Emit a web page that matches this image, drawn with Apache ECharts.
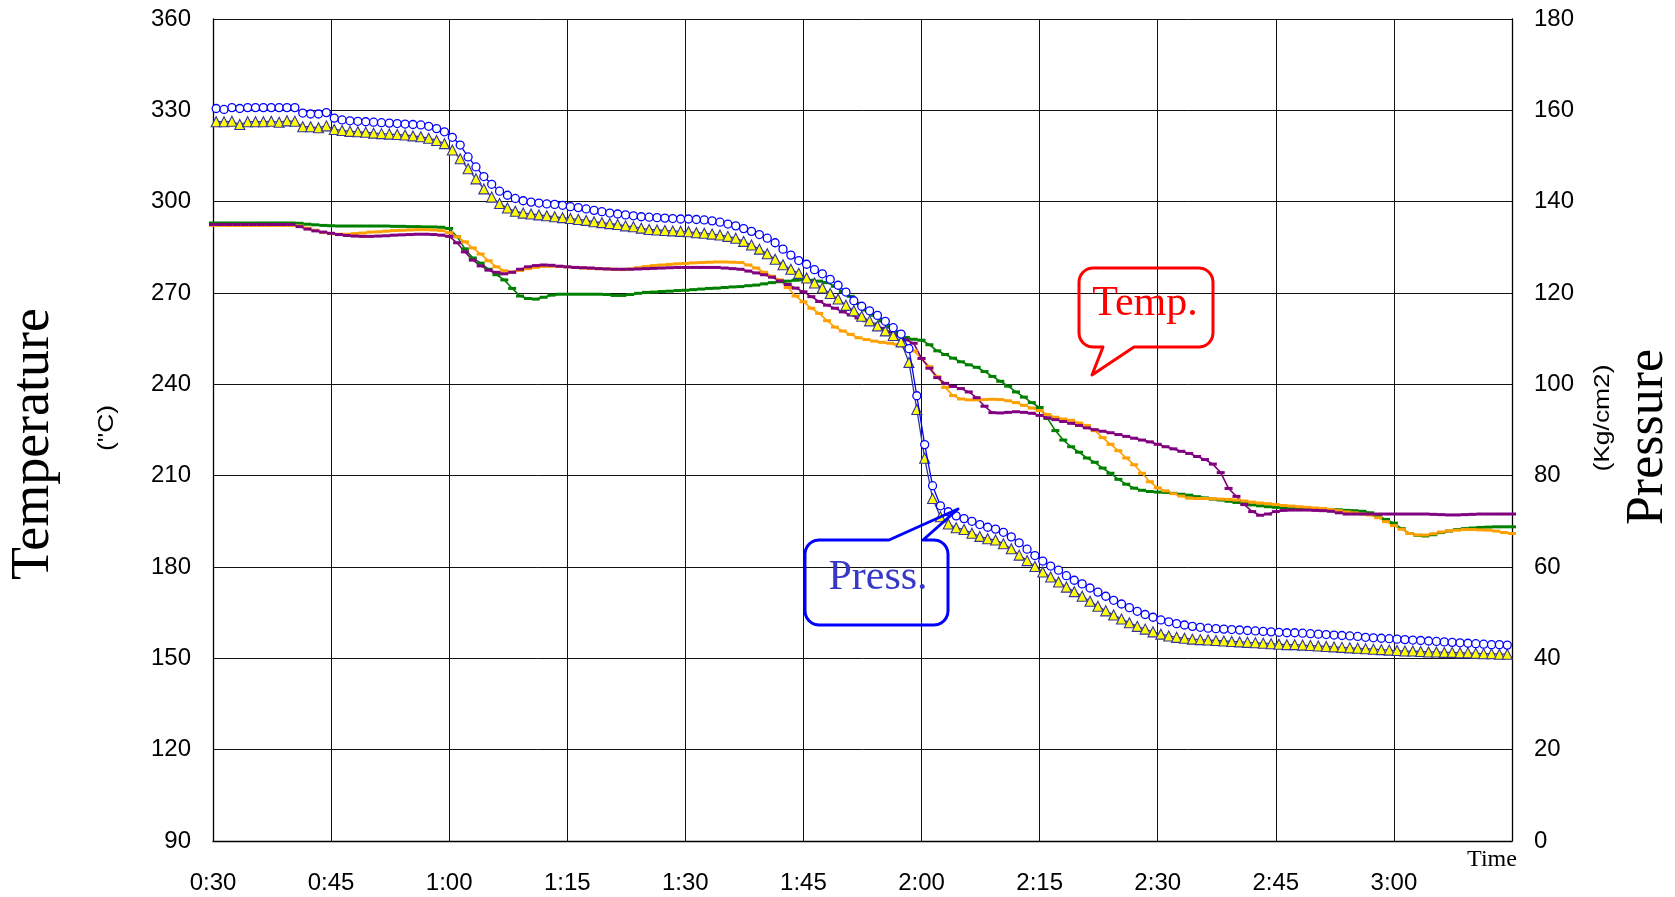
<!DOCTYPE html>
<html>
<head>
<meta charset="utf-8">
<script src="https://cdn.jsdelivr.net/npm/echarts@6/dist/echarts.min.js"></script>
<style>
html,body{margin:0;padding:0;background:#fff;}
#chart{width:1675px;height:897px;}
</style>
</head>
<body>
<div id="chart"></div>
<script>
// ---- tick labels ----
const timeLabels = ['0:30','0:45','1:00','1:15','1:30','1:45','2:00','2:15','2:30','2:45','3:00',''];
const tempTicks = [90,120,150,180,210,240,270,300,330,360];
const pressTicks = [0,20,40,60,80,100,120,140,160,180];

// ---- temperature series (degC), one value per minute from 0:30 ----
const tempStart = 30;
const tempGreen = [
293.0,293.0,293.0,293.0,293.0,293.0,293.0,293.0,293.0,293.0,
293.0,292.9,292.6,292.4,292.2,292.1,292.0,292.0,292.0,292.0,
292.0,292.0,292.0,291.9,291.9,291.8,291.8,291.7,291.7,291.6,
291.2,288.5,284.5,281.5,279.8,277.8,276.0,274.3,271.5,269.0,
268.2,268.0,268.6,269.3,269.6,269.6,269.6,269.6,269.6,269.6,
269.5,269.2,269.2,269.5,269.9,270.2,270.3,270.5,270.6,270.8,
270.9,271.1,271.3,271.5,271.6,271.8,272.0,272.1,272.4,272.6,
273.0,273.4,273.7,273.9,274.2,274.3,274.2,273.9,273.4,272.2,
270.5,268.9,266.5,264.4,262.7,260.8,258.8,257.0,255.4,254.8,
254.5,253.0,251.0,249.8,248.6,247.4,246.4,245.6,244.2,242.6,
241.0,239.4,237.5,235.8,234.0,232.4,228.8,224.8,221.7,219.5,
217.7,215.8,214.4,212.5,210.8,208.8,207.2,205.9,205.2,204.8,
204.6,204.5,204.2,203.9,203.6,203.1,202.7,202.3,202.0,201.6,
201.2,200.8,200.4,200.1,199.8,199.6,199.4,199.2,199.1,199.0,
199.0,198.9,198.9,198.8,198.6,198.5,198.3,197.8,196.8,195.6,
194.4,192.6,191.0,190.4,190.2,190.6,191.3,191.8,192.3,192.6,
192.8,193.0,193.1,193.2,193.2,193.2
];
const tempOrange = [
292.2,292.2,292.2,292.2,292.2,292.2,292.2,292.2,292.2,292.2,
292.2,292.0,291.3,290.6,289.9,289.5,289.3,289.3,289.5,289.7,
290.0,290.1,290.3,290.5,290.6,290.7,290.8,290.8,290.7,290.5,
289.8,288.5,286.8,284.8,282.8,280.6,278.6,277.3,276.9,277.4,
278.0,278.4,278.7,278.8,278.7,278.6,278.4,278.2,278.1,278.0,
277.9,277.8,277.7,277.9,278.3,278.7,279.0,279.2,279.4,279.6,
279.7,279.9,280.0,280.1,280.2,280.2,280.1,280.0,279.2,278.2,
276.8,275.5,274.3,271.8,269.0,267.1,265.0,263.3,260.9,258.8,
257.5,256.4,255.3,254.7,254.2,253.8,253.5,253.1,252.3,251.0,
248.5,245.8,242.5,239.0,236.3,235.2,234.9,234.9,235.0,235.1,
235.0,234.6,234.0,233.1,232.2,231.4,230.1,229.2,228.6,228.2,
227.3,226.5,224.8,222.5,220.3,218.2,215.8,213.6,210.8,208.0,
206.0,205.0,204.1,203.3,202.6,202.5,202.5,202.4,202.3,202.2,
202.0,201.7,201.3,201.0,200.8,200.5,200.2,200.0,199.8,199.6,
199.4,199.2,198.9,198.5,198.1,197.8,197.4,197.1,196.2,194.9,
193.6,192.4,191.0,190.5,190.5,190.9,191.5,191.9,192.1,192.3,
192.3,192.2,192.1,191.8,191.3,191.0
];
const tempPurple = [
292.5,292.5,292.5,292.5,292.5,292.5,292.5,292.5,292.5,292.5,
292.5,291.8,291.0,290.4,290.0,289.6,289.2,288.9,288.7,288.6,
288.6,288.7,288.8,289.0,289.1,289.2,289.3,289.3,289.2,289.0,
288.6,286.5,283.5,280.8,278.9,277.5,276.8,276.3,276.8,277.8,
278.6,279.0,279.2,279.1,278.8,278.6,278.4,278.3,278.2,278.0,
277.9,277.8,277.8,277.8,277.9,278.0,278.1,278.2,278.3,278.4,
278.4,278.4,278.4,278.4,278.4,278.2,278.0,277.8,277.2,276.6,
276.0,275.2,274.0,272.8,271.6,270.4,268.8,267.2,266.0,265.0,
263.8,262.8,261.8,260.9,259.8,258.4,257.2,256.0,254.6,253.5,
248.5,245.3,242.2,240.3,239.3,238.6,237.5,235.6,232.8,230.7,
230.6,230.8,231.0,230.8,230.5,229.8,229.0,228.4,227.8,227.2,
226.5,225.7,225.1,224.6,224.1,223.5,222.9,222.3,221.7,221.1,
220.3,219.5,218.8,218.0,217.3,216.3,215.3,213.8,211.0,205.8,
203.2,200.5,198.2,197.0,197.4,198.2,198.6,198.7,198.7,198.7,
198.6,198.5,198.3,197.8,197.4,197.4,197.4,197.4,197.4,197.4,
197.4,197.4,197.4,197.4,197.4,197.3,197.2,197.1,197.1,197.2,
197.3,197.4,197.4,197.4,197.4,197.4
];

// ---- pressure series (Kg/cm2), one sample per minute from about 0:30.4 ----
const pressStart = 30.4;
const pressCircle = [
160.4,160.2,160.6,160.4,160.6,160.6,160.6,160.6,160.6,160.6,160.6,
159.4,159.2,159.2,159.5,
158.3,157.9,157.7,157.6,157.5,157.4,157.3,157.2,157.1,157.0,
156.9,156.8,156.5,156.0,155.3,154.1,152.4,149.8,147.6,145.5,
143.8,142.3,141.4,140.7,140.2,139.9,139.7,139.5,139.4,139.2,
138.9,138.7,138.4,138.1,137.8,137.5,137.3,137.1,136.9,136.7,
136.6,136.5,136.4,136.3,136.2,136.2,136.1,136.0,135.8,135.5,
135.1,134.7,134.1,133.5,132.8,132.0,131.0,129.6,128.3,127.1,
126.3,125.1,124.2,123.0,121.7,120.2,118.3,117.1,116.1,115.1,
113.8,112.4,111.0,107.8,97.5,86.8,77.8,73.4,72.1,71.2,
70.6,70.0,69.3,68.7,68.3,67.6,66.6,65.3,63.9,62.5,
61.3,60.2,59.3,58.1,57.1,56.3,55.4,54.5,53.6,52.7,
51.9,51.1,50.3,49.6,49.0,48.4,48.0,47.6,47.3,47.0,
46.8,46.6,46.5,46.4,46.3,46.2,46.1,46.0,45.9,45.8,
45.7,45.6,45.6,45.5,45.4,45.3,45.2,45.1,45.0,44.9,
44.8,44.6,44.5,44.4,44.3,44.2,44.1,44.0,43.9,43.8,
43.7,43.6,43.5,43.4,43.3,43.2,43.1,43.0,43.0,42.9
];
const pressTriangle = [
157.5,157.5,157.6,156.9,157.5,157.5,157.5,157.6,157.4,157.7,157.6,
156.4,156.4,156.2,156.6,
155.8,155.6,155.4,155.3,155.2,155.0,154.9,154.8,154.7,154.6,
154.4,154.2,153.9,153.4,152.7,151.3,149.4,147.2,145.0,142.8,
141.0,139.6,138.6,137.9,137.5,137.3,137.1,136.9,136.7,136.5,
136.3,136.1,135.9,135.6,135.4,135.2,135.0,134.7,134.5,134.2,
133.9,133.8,133.7,133.6,133.5,133.4,133.2,133.1,132.9,132.7,
132.4,132.0,131.3,130.5,129.6,128.6,127.4,126.2,125.2,124.3,
123.3,122.2,121.1,119.9,118.7,117.3,116.1,114.9,113.9,112.8,
111.7,110.7,109.3,104.8,94.5,83.8,75.0,71.0,69.4,68.6,
68.2,67.4,66.7,66.2,65.9,65.1,64.0,62.6,61.4,60.1,
58.9,57.8,56.7,55.6,54.6,53.6,52.5,51.4,50.4,49.5,
48.6,47.8,47.0,46.4,45.8,45.3,44.9,44.6,44.4,44.2,
44.1,44.0,43.9,43.8,43.7,43.6,43.5,43.4,43.3,43.2,
43.1,43.0,43.0,42.9,42.8,42.7,42.6,42.5,42.4,42.3,
42.2,42.1,42.0,41.9,41.8,41.7,41.6,41.6,41.5,41.4,
41.4,41.3,41.3,41.2,41.2,41.1,41.0,41.0,40.9,40.9
];

const pairs = (start, arr) => arr.map((v, i) => [start + i, v]);

const SANS = "'Liberation Sans', Arial, sans-serif";
const SERIF = "'Liberation Serif', 'Times New Roman', serif";

// rounded box outline with a tail, as polygon points (annotation geometry)
function calloutPoints(x1, y1, x2, y2, r, tail) {
  const pts = [];
  const arc = (cx, cy, a0) => {
    for (let k = 0; k <= 6; k++) {
      const a = a0 + (k / 6) * Math.PI / 2;
      pts.push([cx + r * Math.cos(a), cy + r * Math.sin(a)]);
    }
  };
  arc(x1 + r, y1 + r, Math.PI);
  if (tail.edge === 'top') tail.pts.forEach(p => pts.push(p));
  arc(x2 - r, y1 + r, -Math.PI / 2);
  arc(x2 - r, y2 - r, 0);
  if (tail.edge === 'bottom') tail.pts.forEach(p => pts.push(p));
  arc(x1 + r, y2 - r, Math.PI / 2);
  return pts;
}

const tempCallout = calloutPoints(1079, 268, 1213, 347, 14,
  {edge: 'bottom', pts: [[1134, 347], [1092, 375], [1103, 347]]});
const pressCallout = calloutPoints(805, 540, 948, 625, 14,
  {edge: 'top', pts: [[889, 540], [958, 509], [923, 540]]});

const chart = echarts.init(document.getElementById('chart'), null, {renderer: 'canvas'});

function tempSeries(name, data, color) {
  return {
    name, type: 'line', yAxisIndex: 0,
    data: pairs(tempStart, data),
    symbol: 'rect', symbolSize: [8, 3], showAllSymbol: true,
    lineStyle: {color, width: 1.6},
    itemStyle: {color, borderWidth: 0},
    z: 2, animation: false, silent: true
  };
}

function vtext(x, y, text, font, extra) {
  return Object.assign({type: 'text', x, y, rotation: Math.PI / 2, silent: true,
    style: {text, font, fill: '#000', align: 'center', verticalAlign: 'middle'}}, extra || {});
}

const option = {
  backgroundColor: '#fff',
  animation: false,
  grid: {left: 213, right: 163, top: 19, bottom: 56, containLabel: false},
  xAxis: {
    type: 'value', min: 30, max: 195, interval: 15,
    axisLine: {show: true, lineStyle: {color: '#000', width: 1.3}},
    axisTick: {show: false},
    splitLine: {show: true, lineStyle: {color: '#111', width: 1}},
    axisLabel: {
      color: '#000', fontSize: 24, fontFamily: SANS, margin: 30,
      showMaxLabel: false,
      formatter: v => timeLabels[Math.round((v - 30) / 15)] || ''
    }
  },
  yAxis: [
    {
      type: 'value', min: 90, max: 360, interval: 30, position: 'left',
      axisLine: {show: true, lineStyle: {color: '#000', width: 1.3}},
      axisTick: {show: false},
      splitLine: {show: true, lineStyle: {color: '#111', width: 1}},
      axisLabel: {color: '#000', fontSize: 24, fontFamily: SANS, margin: 22,
        formatter: v => tempTicks.includes(v) ? String(v) : ''}
    },
    {
      type: 'value', min: 0, max: 180, interval: 20, position: 'right',
      axisLine: {show: true, lineStyle: {color: '#000', width: 1.3}},
      axisTick: {show: false},
      splitLine: {show: false},
      axisLabel: {color: '#000', fontSize: 24, fontFamily: SANS, margin: 22,
        formatter: v => pressTicks.includes(v) ? String(v) : ''}
    }
  ],
  series: [
    tempSeries('Temp A', tempGreen, '#008000'),
    tempSeries('Temp B', tempOrange, '#ffa000'),
    tempSeries('Temp C', tempPurple, '#800080'),
    {
      name: 'Press B', type: 'line', yAxisIndex: 1,
      data: pairs(pressStart, pressTriangle),
      symbol: 'triangle', symbolSize: 10, showAllSymbol: true,
      lineStyle: {color: '#333399', width: 1.3},
      itemStyle: {color: '#ffff00', borderColor: '#333399', borderWidth: 1.1},
      z: 3, animation: false, silent: true
    },
    {
      name: 'Press A', type: 'line', yAxisIndex: 1,
      data: pairs(pressStart, pressCircle),
      symbol: 'circle', symbolSize: 8, showAllSymbol: true,
      lineStyle: {color: '#0000ff', width: 1.3},
      itemStyle: {color: '#ffffff', borderColor: '#0000ff', borderWidth: 1.3},
      z: 4, animation: false, silent: true
    }
  ],
  graphic: [
    vtext(34, 444, 'Temperature', '54px ' + SERIF),
    vtext(107, 428, '("C)', '22px ' + SANS, {scaleX: 1.2}),
    vtext(1648, 437, 'Pressure', '52px ' + SERIF),
    vtext(1603, 418, '(Kg/cm2)', '22px ' + SANS, {scaleX: 1.2}),
    {type: 'text', x: 1492, y: 860, silent: true,
      style: {text: 'Time', font: '24px ' + SERIF, fill: '#000', align: 'center', verticalAlign: 'middle'}},
    {type: 'polygon', silent: true, z: 10,
      shape: {points: tempCallout},
      style: {fill: null, stroke: '#ff0000', lineWidth: 3, lineJoin: 'round'}},
    {type: 'text', x: 1145, y: 304, silent: true, z: 10,
      style: {text: 'Temp.', font: '42px ' + SERIF, fill: '#ff0000', align: 'center', verticalAlign: 'middle'}},
    {type: 'polygon', silent: true, z: 10,
      shape: {points: pressCallout},
      style: {fill: null, stroke: '#0000ff', lineWidth: 3, lineJoin: 'round'}},
    {type: 'text', x: 878, y: 578, silent: true, z: 10,
      style: {text: 'Press.', font: '42px ' + SERIF, fill: '#3838c8', align: 'center', verticalAlign: 'middle'}}
  ]
};
chart.setOption(option);
</script>
</body>
</html>
